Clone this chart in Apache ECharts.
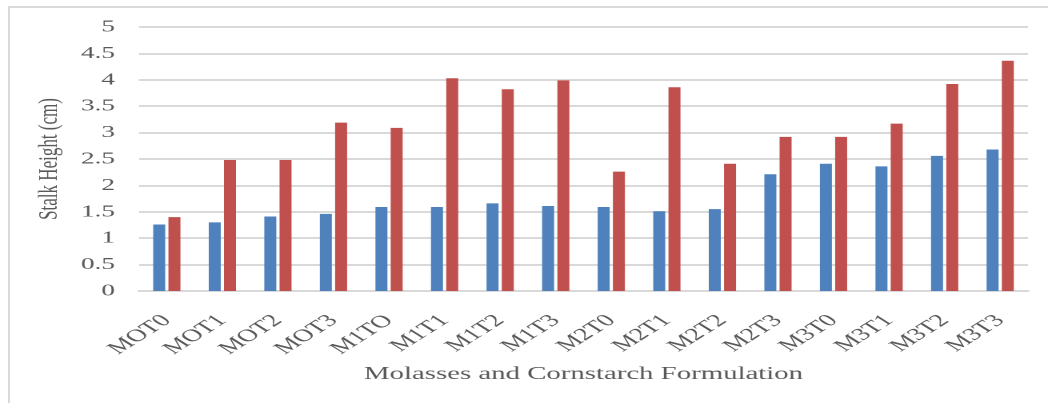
<!DOCTYPE html>
<html>
<head>
<meta charset="utf-8">
<script src="https://cdn.jsdelivr.net/npm/echarts@6/dist/echarts.min.js"></script>
<style>
  html, body { margin: 0; padding: 0; background: #fff; overflow: hidden; }
  #stage { position: relative; width: 1048px; height: 403px; overflow: hidden; }
  /* the chart is laid out narrow and widened, giving the wide serif lettering */
  #chart { position: absolute; left: 0; top: 0; width: 655px; height: 403px;
           transform: scaleX(1.6); transform-origin: 0 0; }
  #frame { position: absolute; left: 8px; top: 6px; right: 0; bottom: 0;
           border-top: 2px solid #d9d9d9; border-left: 2px solid #d9d9d9; pointer-events: none; }
</style>
</head>
<body>
<div id="stage">
  <div id="chart"></div>
  <div id="frame"></div>
</div>
<script>
// Formulation codes along the x axis
const categories = ['MOT0', 'MOT1', 'MOT2', 'MOT3', 'M1TO', 'M1T1', 'M1T2', 'M1T3',
                    'M2T0', 'M2T1', 'M2T2', 'M2T3', 'M3T0', 'M3T1', 'M3T2', 'M3T3'];
// Stalk height (cm), first measurement (blue)
const heightFirst = [1.26, 1.30, 1.41, 1.46, 1.59, 1.59, 1.66, 1.61,
                     1.59, 1.51, 1.55, 2.21, 2.41, 2.36, 2.56, 2.68];
// Stalk height (cm), second measurement (red)
const heightSecond = [1.40, 2.48, 2.48, 3.19, 3.09, 4.03, 3.82, 3.99,
                      2.26, 3.86, 2.41, 2.92, 2.92, 3.17, 3.92, 4.36];

const yMin = 0, yMax = 5, yStep = 0.5;
const xTitle = 'Molasses and Cornstarch Formulation';
const yTitle = 'Stalk Height (cm)';

const serif = '"Liberation Serif", "DejaVu Serif", serif';
const textGray = '#595959';
const gridGray = '#d9d9d9';

const chart = echarts.init(document.getElementById('chart'), null, { renderer: 'canvas', devicePixelRatio: 2 });

chart.setOption({
  animation: false,
  grid: { left: 86.9, right: 12.5, top: 27, bottom: 112, containLabel: false },
  xAxis: {
    type: 'category',
    data: categories,
    name: xTitle,
    nameLocation: 'middle',
    nameGap: 72,
    nameTextStyle: { fontFamily: serif, fontSize: 18, color: textGray },
    axisLine: { show: true, lineStyle: { color: gridGray, width: 2 } },
    axisTick: { show: false },
    axisLabel: { rotate: 45, margin: 27, fontFamily: serif, fontSize: 17.5, color: textGray, interval: 0 }
  },
  yAxis: {
    type: 'value',
    min: yMin, max: yMax, interval: yStep,
    name: yTitle,
    nameLocation: 'middle',
    nameGap: 43,
    nameRotate: 90,
    nameTextStyle: { fontFamily: serif, fontSize: 17, color: textGray },
    axisLine: { show: false },
    axisTick: { show: false },
    axisLabel: { margin: 15, fontFamily: serif, fontSize: 17, color: textGray },
    splitLine: { show: true, lineStyle: { color: gridGray, width: 2 } }
  },
  series: [
    {
      name: 'Measurement 1', type: 'bar', data: heightFirst,
      barWidth: 7.5, barGap: '27%',
      itemStyle: { color: '#4F81BD' }
    },
    {
      name: 'Measurement 2', type: 'bar', data: heightSecond,
      barWidth: 7.5, barGap: '27%',
      itemStyle: { color: '#C0504D' }
    }
  ]
});
</script>
</body>
</html>
